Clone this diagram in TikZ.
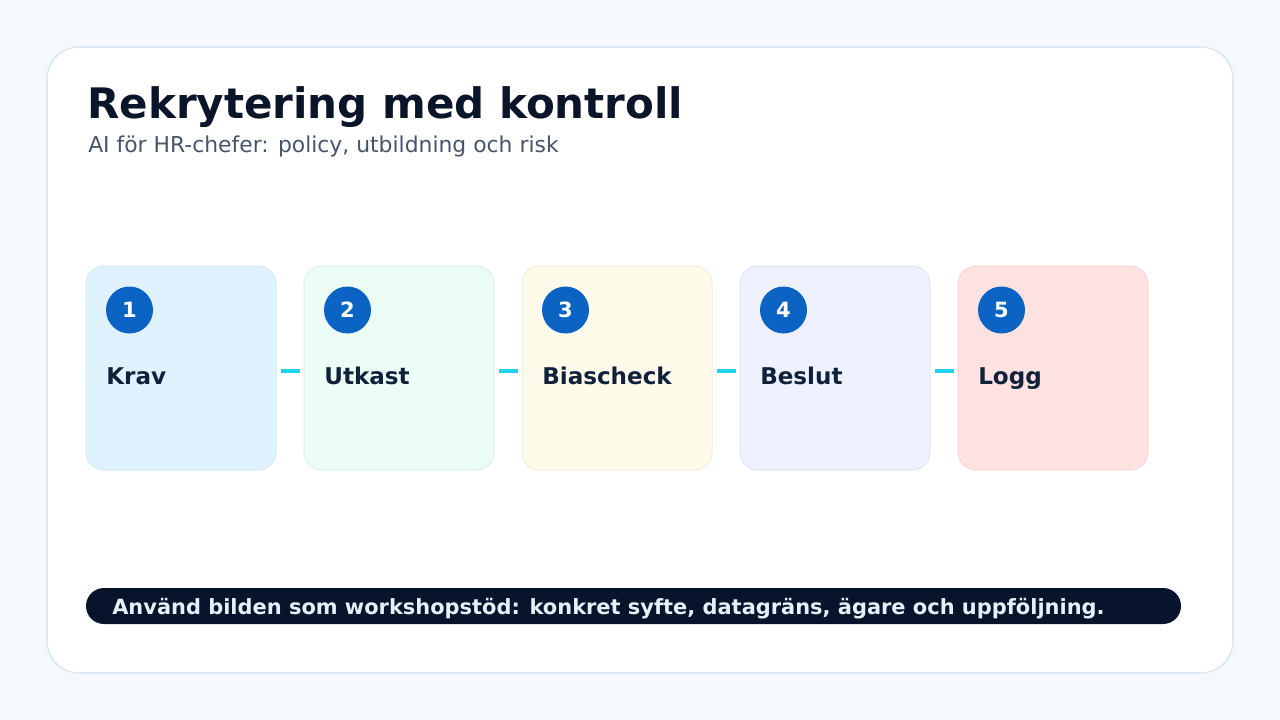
\documentclass[tikz,border=0pt]{standalone}
\usepackage{fontspec}
\setmainfont{DejaVu Sans}
\definecolor{bgcol}{HTML}{F6F9FC}
\definecolor{panelline}{HTML}{DCE8F4}
\definecolor{titlecol}{HTML}{0B1529}
\definecolor{subcol}{HTML}{475569}
\definecolor{labelcol}{HTML}{10223B}
\definecolor{numcol}{HTML}{0B63C4}
\definecolor{linkcol}{HTML}{22D3EE}
\definecolor{barcol}{HTML}{07142B}
\definecolor{bartext}{HTML}{E6F0FA}
\definecolor{fillA}{HTML}{E0F2FE}
\definecolor{lineA}{HTML}{D6EAF8}
\definecolor{fillB}{HTML}{ECFDF5}
\definecolor{lineB}{HTML}{DAF2E9}
\definecolor{fillC}{HTML}{FEFBEA}
\definecolor{lineC}{HTML}{F2EED8}
\definecolor{fillD}{HTML}{EEF2FF}
\definecolor{lineD}{HTML}{DFE5F6}
\definecolor{fillE}{HTML}{FEE2E2}
\definecolor{lineE}{HTML}{F4D8DA}
\tikzset{
  card/.style={draw, line width=0.75pt, rounded corners=13.5pt, minimum width=142.5pt, minimum height=153pt, inner sep=0pt},
  stepnum/.style={circle, fill=numcol, minimum size=35.25pt, inner sep=0pt, text=white, font=\bfseries\fontsize{15.75}{18}\selectfont},
  steplabel/.style={anchor=base west, inner sep=0pt, text=labelcol, font=\bfseries\fontsize{17.3}{20}\selectfont},
  link/.style={draw=linkcol, line width=3pt, shorten <=3pt, shorten >=3pt}
}
\begin{document}
\begin{tikzpicture}[x=0.75pt, y=-0.75pt]
	\useasboundingbox (0,0) rectangle (1280,720);
	\fill[bgcol] (0,0) rectangle (1280,720);
	
	%Panel
	\draw[panelline, line width=1.2pt, fill=white, rounded corners=24pt] (47,47) rectangle (1233,673);
	
	%Heading
	\node[anchor=base west, inner sep=0pt, text=titlecol, font=\bfseries\fontsize{31.5}{36}\selectfont] (title) at (87,119) {Rekrytering med kontroll};
	\node[anchor=base west, inner sep=0pt, text=subcol, font=\fontsize{16.4}{19}\selectfont] (subtitle) at (88,153) {AI för HR-chefer: policy, utbildning och risk};
	
	%Step 1
	\def\x{86}
	\node[card, draw=lineA, fill=fillA] (c1) at (\x+95,368) {};
	\node[stepnum] (n1) at (\x+43.5,310) {1};
	\node[steplabel] (l1) at (\x+20,384) {Krav};
	
	%Step 2
	\def\x{304}
	\node[card, draw=lineB, fill=fillB] (c2) at (\x+95,368) {};
	\node[stepnum] (n2) at (\x+43.5,310) {2};
	\node[steplabel] (l2) at (\x+20,384) {Utkast};
	
	%Step 3
	\def\x{522}
	\node[card, draw=lineC, fill=fillC] (c3) at (\x+95,368) {};
	\node[stepnum] (n3) at (\x+43.5,310) {3};
	\node[steplabel] (l3) at (\x+20,384) {Biascheck};
	
	%Step 4
	\def\x{740}
	\node[card, draw=lineD, fill=fillD] (c4) at (\x+95,368) {};
	\node[stepnum] (n4) at (\x+43.5,310) {4};
	\node[steplabel] (l4) at (\x+20,384) {Beslut};
	
	%Step 5
	\def\x{958}
	\node[card, draw=lineE, fill=fillE] (c5) at (\x+95,368) {};
	\node[stepnum] (n5) at (\x+43.5,310) {5};
	\node[steplabel] (l5) at (\x+20,384) {Logg};
	
	%Links
	\draw[link] ([yshift=-2.25pt]c1.east) -- ([yshift=-2.25pt]c2.west);
	\draw[link] ([yshift=-2.25pt]c2.east) -- ([yshift=-2.25pt]c3.west);
	\draw[link] ([yshift=-2.25pt]c3.east) -- ([yshift=-2.25pt]c4.west);
	\draw[link] ([yshift=-2.25pt]c4.east) -- ([yshift=-2.25pt]c5.west);
	
	%Footer bar
	\node[fill=barcol, rounded corners=13.5pt, minimum width=821.25pt, minimum height=27pt, inner sep=0pt] (bar) at (633.5,606) {};
	\node[anchor=base west, inner sep=0pt, text=bartext, font=\bfseries\fontsize{15.7}{18}\selectfont] (note) at (112,614) {Använd bilden som workshopstöd: konkret syfte, datagräns, ägare och uppföljning.};
\end{tikzpicture}
\end{document}
